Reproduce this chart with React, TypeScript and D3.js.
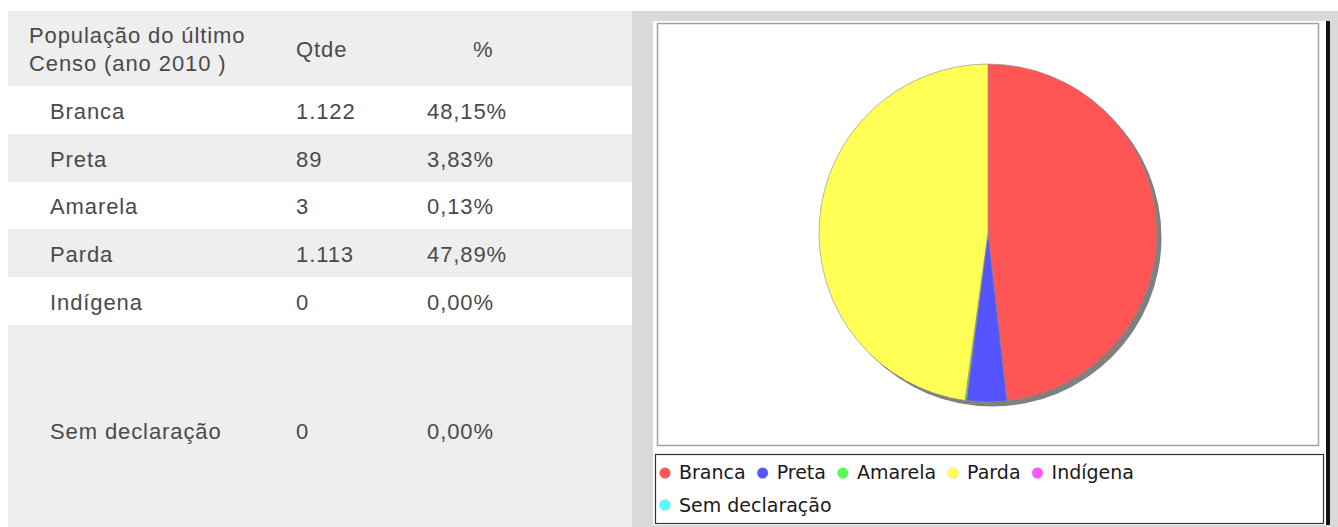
import React from 'react'
import * as d3 from 'd3'

const categories = ['Branca', 'Preta', 'Amarela', 'Parda', 'Indígena', 'Sem declaração']
const counts = [1122, 89, 3, 1113, 0, 0]
const countLabels = ['1.122', '89', '3', '1.113', '0', '0']
const percentLabels = ['48,15%', '3,83%', '0,13%', '47,89%', '0,00%', '0,00%']
const headerLines = ['População do último', 'Censo (ano 2010 )']
const colors = ['#ff5555', '#5555ff', '#55ff55', '#ffff55', '#ff55ff', '#55ffff']

const W = 1338
const H = 527

export default function App() {
  const svgRef = React.useRef<SVGSVGElement>(null)

  React.useEffect(() => {
    const svg = d3.select(svgRef.current)
    svg.selectAll('*').remove()

    // ---- table ----
    const tableX = 8
    const tableW = 624
    const headerTop = 11
    const headerBottom = 86
    const rowBounds = [86, 134, 182, 229, 277, 325, H]
    const textColor = '#4a4a4a'
    const tbl = svg.append('g')
      .style('font-family', '"Liberation Sans", Arial, sans-serif')
      .style('letter-spacing', '0.9px')

    tbl.append('rect')
      .attr('x', tableX).attr('y', headerTop)
      .attr('width', tableW).attr('height', headerBottom - headerTop)
      .attr('fill', '#eeeeee')

    headerLines.forEach((l, i) => {
      tbl.append('text')
        .attr('x', 29).attr('y', 43 + i * 28)
        .attr('font-size', 22).attr('fill', textColor)
        .text(l)
    })
    tbl.append('text').attr('x', 296).attr('y', 57)
      .attr('font-size', 22).attr('fill', textColor).text('Qtde')
    tbl.append('text').attr('x', 473).attr('y', 57)
      .attr('font-size', 22).attr('fill', textColor).text('%')

    categories.forEach((c, i) => {
      const y0 = rowBounds[i]
      const y1 = rowBounds[i + 1]
      tbl.append('rect')
        .attr('x', tableX).attr('y', y0)
        .attr('width', tableW).attr('height', y1 - y0)
        .attr('fill', i % 2 === 0 ? '#ffffff' : '#eeeeee')
      const base = i === categories.length - 1 ? 439 : (y0 + y1) / 2 + 8.5
      const cells: [number, string][] = [[50, c], [296, countLabels[i]], [427, percentLabels[i]]]
      cells.forEach(([x, t]) => {
        tbl.append('text')
          .attr('x', x).attr('y', base)
          .attr('font-size', 22).attr('fill', textColor)
          .text(t)
      })
    })

    // ---- chart panel ----
    svg.append('rect')
      .attr('x', 632).attr('y', 11)
      .attr('width', W - 632).attr('height', H - 11)
      .attr('fill', '#d9d9d9')
    svg.append('rect')
      .attr('x', 653).attr('y', 21)
      .attr('width', 673).attr('height', 504)
      .attr('fill', '#ffffff')
    svg.append('rect')
      .attr('x', 1326).attr('y', 21)
      .attr('width', 4).attr('height', 504)
      .attr('fill', '#111')

    // plot area outline
    svg.append('rect')
      .attr('x', 657.5).attr('y', 23.5)
      .attr('width', 661).attr('height', 422)
      .attr('fill', '#fff')
      .attr('stroke', '#a0a0a0').attr('stroke-width', 1.5)

    const cx = 988
    const cy = 233
    const r = 169

    const pie = d3.pie<number>().sort(null).value(d => d)
    const arcs = pie(counts)
    const arc = d3.arc<d3.PieArcDatum<number>>().innerRadius(0).outerRadius(r)

    const g = svg.append('g').attr('transform', `translate(${cx},${cy})`)
    g.append('circle')
      .attr('cx', 4.5).attr('cy', 4.5).attr('r', r)
      .attr('fill', '#808080')
    g.selectAll('path.slice')
      .data(arcs.filter(a => a.value > 0))
      .enter()
      .append('path')
      .attr('class', 'slice')
      .attr('d', arc)
      .attr('fill', d => colors[d.index])
      .attr('stroke', '#8a8a8a')
      .attr('stroke-width', 0.6)

    // ---- legend ----
    const legX = 655.5
    const legY = 454.5
    const legW = 668
    const legH = 69
    svg.append('rect')
      .attr('x', legX).attr('y', legY)
      .attr('width', legW).attr('height', legH)
      .attr('fill', '#fff')
      .attr('stroke', '#333').attr('stroke-width', 1.2)

    const leg = svg.append('g').style('font-family', '"DejaVu Sans", sans-serif')
    let lx = 665
    let row = 0
    const rowBase = [479, 512]
    const rowDot = [473, 505]
    categories.forEach((c, i) => {
      const t = leg.append('text')
        .attr('font-size', 19).attr('fill', '#1a1a1a')
        .text(c)
      const tw = (t.node() as SVGTextElement).getComputedTextLength()
      if (lx + 14 + tw > legX + legW - 12) {
        row += 1
        lx = 665
      }
      leg.append('circle')
        .attr('cx', lx).attr('cy', rowDot[row]).attr('r', 5.5)
        .attr('fill', colors[i])
        .attr('stroke', '#bbb').attr('stroke-width', 0.3)
      t.attr('x', lx + 14).attr('y', rowBase[row])
      lx += 14 + tw + 17
    })
  }, [])

  return (
    <div style={{ position: 'absolute', left: 0, top: 0 }}>
      <svg ref={svgRef} width={W} height={H} style={{ display: 'block', background: '#fff' }} />
    </div>
  )
}
